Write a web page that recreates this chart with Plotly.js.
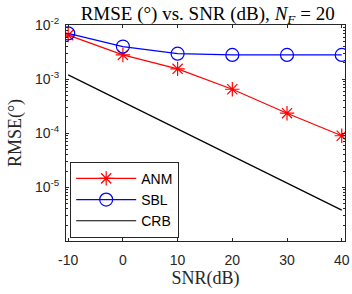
<!DOCTYPE html>
<html>
<head>
<meta charset="utf-8">
<script src="https://cdn.plot.ly/plotly-3.0.1.min.js"></script>
<style>html,body{margin:0;padding:0;background:#fff;}#chart{width:352px;height:294px;}</style>
</head>
<body>
<div id="chart"></div>
<script>
const snr = [-10, 0, 10, 20, 30, 40];
const anm = [6.5e-3, 2.8e-3, 1.55e-3, 6.5e-4, 2.35e-4, 9.0e-5];
const sbl = [7.0e-3, 4.0e-3, 2.95e-3, 2.8e-3, 2.8e-3, 2.8e-3];
const crb = [1.2e-3, 3.8e-4, 1.2e-4, 3.8e-5, 1.2e-5, 3.8e-6];
const xTicks = [-10, 0, 10, 20, 30, 40];
const yTickVals = [1e-5, 1e-4, 1e-3, 1e-2];
const yTickText = ['10<sup>-5</sup>', '10<sup>-4</sup>', '10<sup>-3</sup>', '10<sup>-2</sup>'];

const axisColor = '#262626';
const traces = [
  {x: snr, y: anm, name: 'ANM', mode: 'lines+markers', type: 'scatter',
   line: {color: '#ff0000', width: 1.2},
   marker: {symbol: 'asterisk-open', size: 12, color: '#ff0000', line: {color: '#ff0000', width: 1.2}}},
  {x: snr, y: sbl, name: 'SBL', mode: 'lines+markers', type: 'scatter',
   line: {color: '#0000ff', width: 1.2},
   marker: {symbol: 'circle-open', size: 13, color: '#0000ff', line: {color: '#0000ff', width: 1.2}}},
  {x: snr, y: crb, name: 'CRB', mode: 'lines', type: 'scatter',
   line: {color: '#000000', width: 1.2}}
];

const layout = {
  width: 352, height: 294,
  margin: {l: 66, r: 7, t: 25, b: 53},
  paper_bgcolor: '#fff', plot_bgcolor: '#fff',
  showlegend: true,
  title: {text: 'RMSE (°) vs. SNR (dB), <i>N</i><sub><i>F</i></sub> = 20',
          font: {family: 'Liberation Serif', size: 19, color: '#000'},
          x: 0.59, xanchor: 'center', y: 0.978, yanchor: 'top'},
  xaxis: {
    range: [-10.4, 40.6], tickvals: xTicks, ticktext: xTicks.map(String),
    ticks: 'inside', ticklen: 3, tickcolor: axisColor, mirror: 'allticks',
    showline: true, linecolor: axisColor, linewidth: 1, showgrid: false, zeroline: false,
    tickfont: {family: 'Liberation Sans', size: 14, color: axisColor},
    ticklabelstandoff: 6,
    title: {text: 'SNR(dB)', font: {family: 'Liberation Serif', size: 18, color: axisColor}, standoff: 4}
  },
  yaxis: {
    type: 'log', range: [-5.99, -2], tickvals: yTickVals, ticktext: yTickText,
    ticks: 'inside', ticklen: 3, tickcolor: axisColor, mirror: 'allticks',
    showline: true, linecolor: axisColor, linewidth: 1, showgrid: false, zeroline: false,
    tickfont: {family: 'Liberation Sans', size: 14, color: axisColor},
    ticklabelstandoff: 3,
    minor: {ticks: 'inside', ticklen: 2, tickcolor: axisColor, dtick: 'D1', showgrid: false},
    title: {text: 'RMSE(°)', font: {family: 'Liberation Serif', size: 18, color: axisColor}, standoff: 8}
  },
  legend: {
    x: 0.015, y: 0.015, xanchor: 'left', yanchor: 'bottom',
    bgcolor: '#fff', bordercolor: axisColor, borderwidth: 1,
    font: {family: 'Liberation Sans', size: 14, color: '#000'},
    itemwidth: 60, tracegroupgap: 0
  }
};

Plotly.newPlot('chart', traces, layout, {displayModeBar: false, staticPlot: true});
</script>
</body>
</html>
